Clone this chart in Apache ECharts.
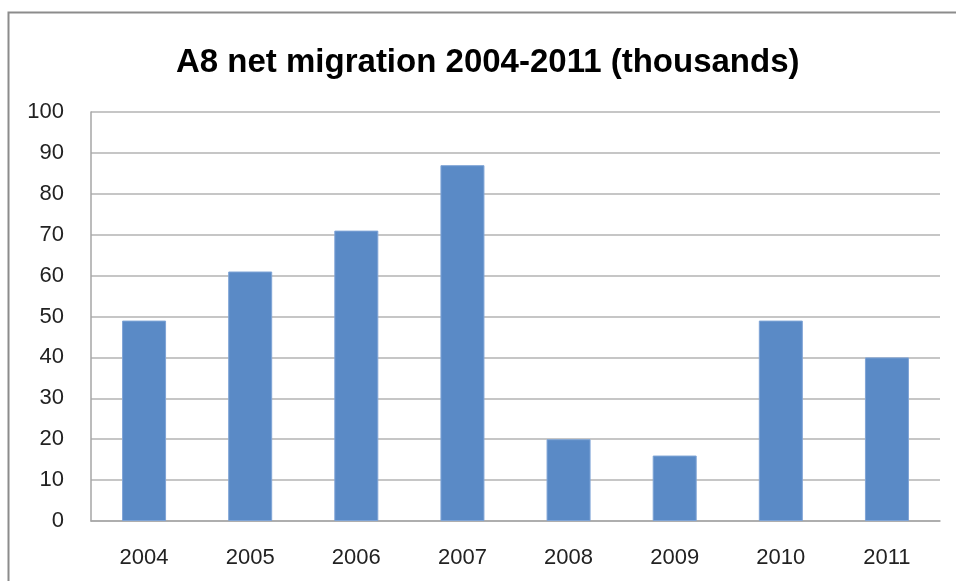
<!DOCTYPE html>
<html><head><meta charset="utf-8">
<script src="https://cdn.jsdelivr.net/npm/echarts@6/dist/echarts.min.js"></script>
<style>html,body{margin:0;padding:0;background:#fff}#c{width:956px;height:581px}</style>
</head><body><div id="c"></div>
<script>
const categories = ['2004','2005','2006','2007','2008','2009','2010','2011'];
const values = [49, 61, 71, 87, 20, 16, 49, 40];
const yTicks = [0,10,20,30,40,50,60,70,80,90,100];
const titleText = 'A8 net migration 2004-2011 (thousands)';

const chart = echarts.init(document.getElementById('c'));
chart.setOption({
  animation: false,
  backgroundColor: '#fff',
  graphic: [{
    type: 'rect', shape: {x: 8.5, y: 12.5, width: 960, height: 600},
    style: {fill: 'none', stroke: '#8c8c8c', lineWidth: 2}, silent: true
  }],
  title: {
    text: titleText, left: 171, top: 41,
    textStyle: {fontFamily: 'Liberation Sans, sans-serif', fontWeight: 'bold', fontSize: 33, color: '#000'}
  },
  grid: {left: 91, right: 16, top: 112, bottom: 60, containLabel: false},
  xAxis: {
    type: 'category', data: categories,
    axisLine: {lineStyle: {color: '#a6a6a6', width: 1.5}},
    axisTick: {show: false},
    axisLabel: {margin: 26, fontSize: 22, color: '#222', fontFamily: 'Liberation Sans, sans-serif'}
  },
  yAxis: {
    type: 'value', min: 0, max: 100, interval: 10,
    axisLine: {show: true, lineStyle: {color: '#a6a6a6', width: 1.5}},
    axisTick: {show: false},
    splitLine: {lineStyle: {color: '#b3b3b3', width: 1.5}},
    axisLabel: {margin: 27, fontSize: 22, color: '#222', fontFamily: 'Liberation Sans, sans-serif',
      formatter: v => yTicks.includes(v) ? String(v) : ''}
  },
  series: [{
    type: 'bar', data: values, barWidth: 44,
    itemStyle: {color: '#5a8ac6', borderColor: '#7fa4d6', borderWidth: 1}
  }]
});
</script></body></html>
